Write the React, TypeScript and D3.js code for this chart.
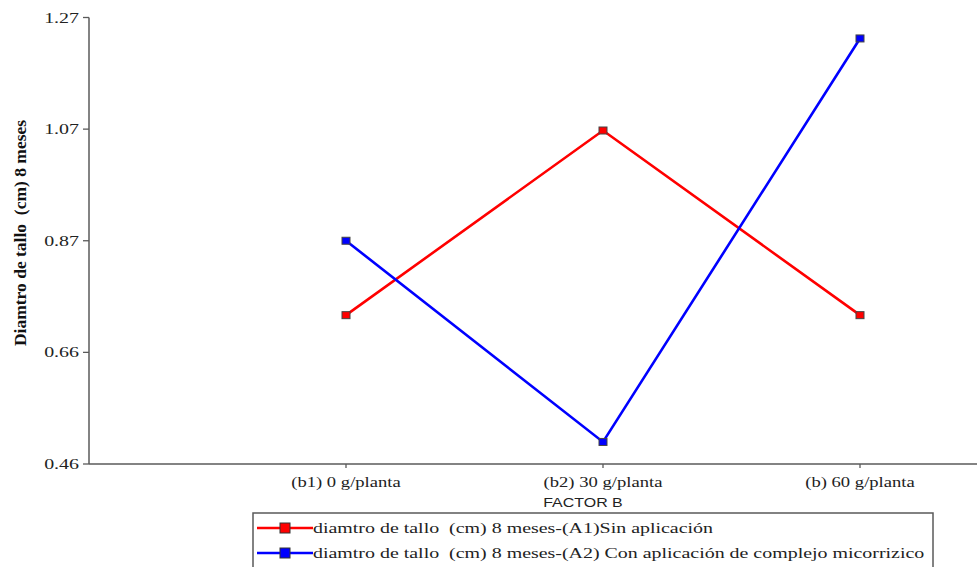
import React from "react";
import * as d3 from "d3";

const categories = ["(b1) 0 g/planta", "(b2) 30 g/planta", "(b) 60 g/planta"];
const sinAplicacion = [0.73, 1.065, 0.73];
const conAplicacion = [0.865, 0.5, 1.232];
const yTickValues = [0.46, 0.6625, 0.865, 1.0675, 1.27];
const yTickLabels = ["0.46", "0.66", "0.87", "1.07", "1.27"];
const seriesNames = [
  "diamtro de tallo  (cm) 8 meses-(A1)Sin aplicación",
  "diamtro de tallo  (cm) 8 meses-(A2) Con aplicación de complejo micorrizico",
];
const seriesColors = ["#ff0000", "#0000ff"];

const W = 977;
const H = 567;
const SX = 1.33; // the picture is stretched sideways

export default function App() {
  const x = d3.scalePoint<string>().domain(categories).range([89, 1117]).padding(1);
  const y = d3.scaleLinear().domain([0.46, 1.27]).range([464, 17.5]);
  const line = d3.line<number>()
    .x((_, i) => x(categories[i])!)
    .y(d => y(d));
  const series = [sinAplicacion, conAplicacion];
  const axisColor = "#5a5a5a";
  const serif = "'Liberation Serif', 'DejaVu Serif', serif";

  return (
    <svg width={W} height={H} style={{ position: "absolute", left: 0, top: 0, background: "#fff" }}>
      {/* y axis */}
      <line x1={89} x2={89} y1={y(1.27)} y2={y(0.46)} stroke={axisColor} strokeWidth={1.5} />
      {yTickValues.map((v, i) => (
        <g key={i} transform={`translate(0,${y(v)})`}>
          <line x1={83} x2={89} stroke={axisColor} strokeWidth={1.3} />
          <text transform={`translate(79,5) scale(${SX},1)`} textAnchor="end" fontFamily={serif} fontSize={15} fill="#222">
            {yTickLabels[i]}
          </text>
        </g>
      ))}
      <text
        transform={`translate(26,233) rotate(-90)`}
        textAnchor="middle"
        fontFamily={serif}
        fontWeight="bold"
        fontSize={17.5}
        fill="#111"
        style={{ whiteSpace: "pre" }}
      >
        Diamtro de tallo  (cm) 8 meses
      </text>

      {/* x axis */}
      <line x1={89} x2={W} y1={y(0.46)} y2={y(0.46)} stroke={axisColor} strokeWidth={1.5} />
      {categories.map(c => (
        <g key={c} transform={`translate(${x(c)},${y(0.46)})`}>
          <line y1={0} y2={4} stroke={axisColor} strokeWidth={1.3} />
          <text transform={`translate(0,23) scale(${SX},1)`} textAnchor="middle" fontFamily={serif} fontSize={14} fill="#222">
            {c}
          </text>
        </g>
      ))}
      <text
        transform={`translate(583,507) scale(${SX},1)`}
        textAnchor="middle"
        fontFamily="'Liberation Sans', Arial, sans-serif"
        fontSize={12}
        fill="#222"
      >
        FACTOR B
      </text>

      {/* series */}
      {series.map((s, k) => (
        <g key={k}>
          <path d={line(s)!} fill="none" stroke={seriesColors[k]} strokeWidth={2.6} />
          {s.map((v, i) => (
            <rect
              key={i}
              x={x(categories[i])! - 4}
              y={y(v) - 3.5}
              width={8}
              height={7}
              fill={seriesColors[k]}
              stroke="#444"
              strokeWidth={1}
            />
          ))}
        </g>
      ))}

      {/* legend */}
      <rect x={253} y={513} width={680} height={80} fill="#fff" stroke={axisColor} strokeWidth={1.5} />
      {seriesNames.map((name, k) => {
        const ly = 528 + k * 25;
        return (
          <g key={name}>
            <line x1={257} x2={313} y1={ly} y2={ly} stroke={seriesColors[k]} strokeWidth={2.6} />
            <rect x={280} y={ly - 5} width={10} height={10} fill={seriesColors[k]} stroke="#333" strokeWidth={1} />
            <text
              transform={`translate(313,${ly + 5}) scale(${SX},1)`}
              fontFamily={serif}
              fontSize={15}
              fill="#222"
              style={{ whiteSpace: "pre" }}
            >
              {name}
            </text>
          </g>
        );
      })}
    </svg>
  );
}
